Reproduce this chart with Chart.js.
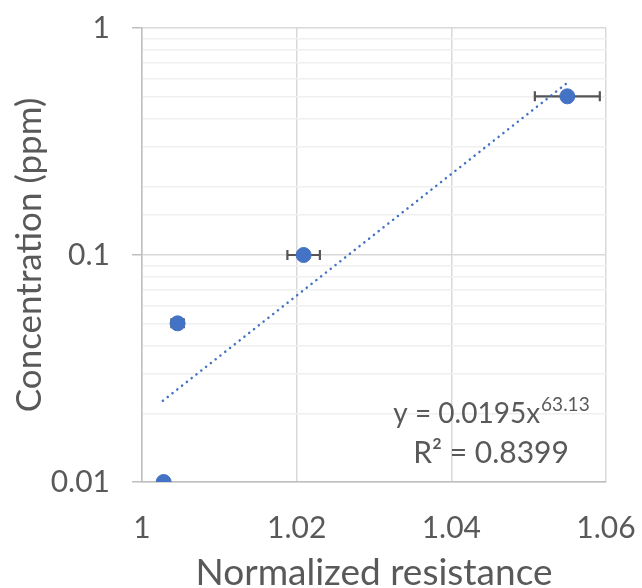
<!DOCTYPE html>
<html>
<head>
<meta charset="utf-8">
<script src="https://cdn.jsdelivr.net/npm/chart.js@4.4.1/dist/chart.umd.min.js"></script>
<style>
  html, body { margin: 0; padding: 0; background: #ffffff; }
  #wrap { width: 642px; height: 588px; }
</style>
</head>
<body>
<div id="wrap"><canvas id="chart" width="642" height="588"></canvas></div>
<script>
// measured points
const resistance = [1.0028, 1.0046, 1.0209, 1.0550];
const concentration = [0.01, 0.05, 0.1, 0.5];
const resistanceErr = [0, 0.0008, 0.0021, 0.0042];

// power trendline, ends
const trendX = [1.0027, 1.0549];
const trendY = [0.0228, 0.57];

const xTickLabels = ['1', '1.02', '1.04', '1.06'];
const yTickLabels = ['0.01', '0.1', '1'];
const equationText = 'y = 0.0195x';
const equationPower = '63.13';
const r2Text = 'R\u00B2 = 0.8399';

const TEXT = '#595959';
const FONT = 'Lato';

function isDecade(v) {
  const l = Math.log10(v);
  return Math.abs(l - Math.round(l)) < 1e-9;
}

function noLabelPadding(scale) {
  scale.paddingTop = 0;
  scale.paddingBottom = 0;
  scale.paddingLeft = 0;
  scale.paddingRight = 0;
}

// horizontal error bars, drawn under the markers
const errorBars = {
  id: 'errorBars',
  beforeDatasetsDraw(chart) {
    const { ctx, scales: { x, y } } = chart;
    ctx.save();
    ctx.strokeStyle = '#555555';
    ctx.lineWidth = 2.2;
    resistance.forEach((r, i) => {
      const e = resistanceErr[i];
      if (!e) return;
      const py = y.getPixelForValue(concentration[i]);
      const x0 = x.getPixelForValue(r - e);
      const x1 = x.getPixelForValue(r + e);
      ctx.beginPath();
      ctx.moveTo(x0, py); ctx.lineTo(x1, py);
      ctx.moveTo(x0, py - 5); ctx.lineTo(x0, py + 5);
      ctx.moveTo(x1, py - 5); ctx.lineTo(x1, py + 5);
      ctx.stroke();
    });
    ctx.restore();
  }
};

// trendline equation label
const equationLabel = {
  id: 'equationLabel',
  afterDraw(chart) {
    const { ctx, chartArea } = chart;
    const cx = chartArea.right - 115;
    ctx.save();
    ctx.fillStyle = TEXT;
    ctx.textBaseline = 'alphabetic';
    ctx.font = '28px ' + FONT;
    const w1 = ctx.measureText(equationText).width;
    ctx.font = '19px ' + FONT;
    const w2 = ctx.measureText(equationPower).width;
    const left = cx - (w1 + w2) / 2;
    const base1 = chartArea.bottom - 59;
    ctx.textAlign = 'left';
    ctx.font = '28px ' + FONT;
    ctx.fillText(equationText, left, base1);
    ctx.font = '19px ' + FONT;
    ctx.fillText(equationPower, left + w1 + 1, base1 - 12);
    ctx.font = '30px ' + FONT;
    ctx.textAlign = 'center';
    ctx.fillText(r2Text, cx, chartArea.bottom - 19);
    ctx.restore();
  }
};

const ctx = document.getElementById('chart').getContext('2d');
new Chart(ctx, {
  type: 'scatter',
  data: {
    datasets: [
      {
        label: 'Concentration',
        data: resistance.map((r, i) => ({ x: r, y: concentration[i] })),
        backgroundColor: '#4472C4',
        borderColor: '#4472C4',
        pointRadius: 7.5,
        pointHoverRadius: 7.5,
        showLine: false
      },
      {
        label: 'Power trend',
        data: trendX.map((v, i) => ({ x: v, y: trendY[i] })),
        showLine: true,
        borderColor: '#4472C4',
        borderWidth: 2.5,
        borderDash: [0.1, 6],
        borderCapStyle: 'round',
        pointRadius: 0,
        fill: false
      }
    ]
  },
  options: {
    responsive: false,
    animation: false,
    events: [],
    layout: { padding: { top: 28, right: 36, left: 0, bottom: 0 } },
    plugins: {
      legend: { display: false },
      tooltip: { enabled: false }
    },
    scales: {
      x: {
        type: 'linear',
        min: 1,
        max: 1.06,
        afterFit(scale) { scale.height = 106; noLabelPadding(scale); },
        ticks: {
          stepSize: 0.02,
          padding: 28,
          color: TEXT,
          font: { family: FONT, size: 30 },
          callback: (v, i) => xTickLabels[i]
        },
        grid: { color: '#d9d9d9', lineWidth: 1.5, drawTicks: false },
        border: { color: '#bfbfbf', width: 1.5 },
        title: {
          display: true,
          text: 'Normalized resistance',
          color: TEXT,
          font: { family: FONT, size: 37, lineHeight: 0.8 },
          padding: 0
        }
      },
      y: {
        type: 'logarithmic',
        min: 0.01,
        max: 1,
        afterFit(scale) { scale.width = 142; noLabelPadding(scale); },
        ticks: {
          autoSkip: false,
          padding: 22,
          color: TEXT,
          font: { family: FONT, size: 30 },
          callback: (v) => isDecade(v) ? yTickLabels[Math.round(Math.log10(v)) + 2] : ''
        },
        grid: {
          color: (c) => (c.tick && isDecade(c.tick.value)) ? '#d9d9d9' : '#f0f0f0',
          lineWidth: 1.5,
          tickColor: (c) => (c.tick && isDecade(c.tick.value)) ? '#bfbfbf' : 'rgba(0,0,0,0)',
          tickLength: 10
        },
        border: { color: '#bfbfbf', width: 1.5 },
        title: {
          display: true,
          text: 'Concentration (ppm)',
          color: TEXT,
          font: { family: FONT, size: 35, lineHeight: 1.2 },
          padding: { top: 9, bottom: 0 }
        }
      }
    }
  },
  plugins: [errorBars, equationLabel]
});
</script>
</body>
</html>
